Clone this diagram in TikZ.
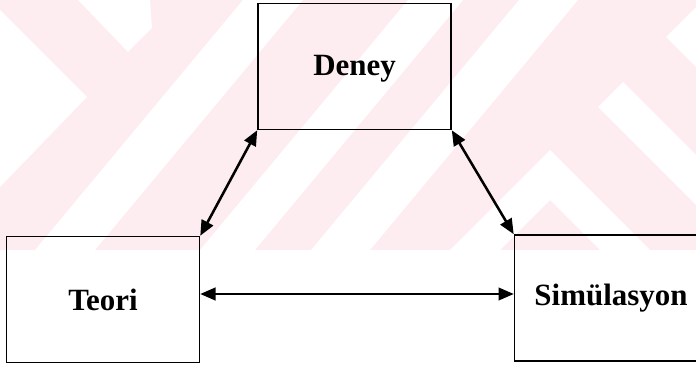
\documentclass[tikz,border=0pt]{standalone}
\usepackage{tikz}
\usetikzlibrary{shapes, arrows, arrows.meta}
\usepackage{fontspec}
\setmainfont{Liberation Serif}
\definecolor{wmpink}{RGB}{253,236,240}

\begin{document}
\begin{tikzpicture}[x=0.025cm, y=-0.025cm,
  box/.style={draw, rectangle, line width=1.1pt, minimum width=4.825cm, minimum height=3.15cm, font=\fontsize{22}{26}\selectfont\bfseries},
  link/.style={{Triangle[length=0.38cm, width=0.32cm]}-{Triangle[length=0.38cm, width=0.32cm]}}]
\useasboundingbox (0, 0) rectangle (696, 366);

\begin{scope}
\clip (0, 0) rectangle (696, 250);
\fill[wmpink] (0, 0) rectangle (696, 250);
\fill[white] (78, 0) -- (150, 0) -- (152, 28) -- (128, 52) -- cycle;
\fill[white] (0, 10) -- (87, 97) -- (0, 187) -- cycle;
\fill[white] (35, 250) -- (95, 250) -- (303, 0) -- (243, 0) -- cycle;
\fill[white] (200, 250) -- (255, 250) -- (463, 0) -- (408, 0) -- cycle;
\fill[white] (311, 250) -- (370, 250) -- (578, 0) -- (519, 0) -- cycle;
\fill[white] (550, 150) -- (650, 250) -- (600, 250) -- (550, 200) -- (500, 250) -- (450, 250) -- cycle;
\fill[white] (598, 107) -- (623, 82) -- (696, 155) -- (696, 205) -- cycle;
\fill[white] (666, 37) -- (696, 7) -- (696, 67) -- cycle;
\end{scope}

\node[box, text height=0.62cm] (n1) at (354.5, 66.5) {Deney};
\node[box, text height=0.58cm] (n2) at (103, 299.5) {Teori};
\node[box] (n3) at (611, 298) {Simülasyon};

\draw[link, line width=1.8pt] (n1.south west) -- (n2.north east);
\draw[link, line width=1.8pt] (n1.south east) -- (n3.north west);
\draw[link, line width=1.1pt] ([yshift=0.1375cm]n2.east) -- ([yshift=0.1cm]n3.west);
\end{tikzpicture}
\end{document}
